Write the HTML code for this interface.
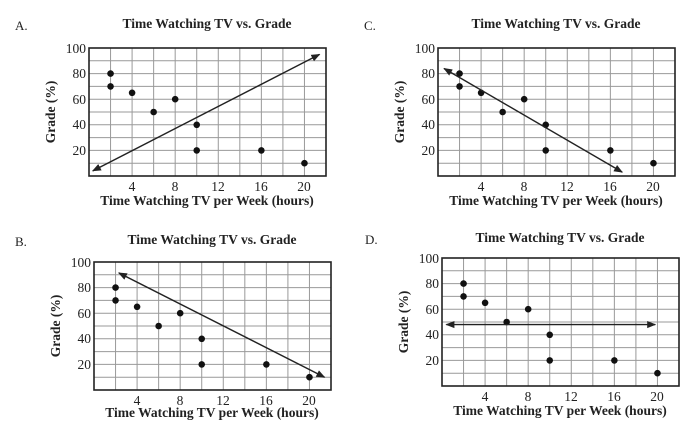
<!DOCTYPE html>
<html><head><meta charset="utf-8"><style>
html,body{margin:0;padding:0;background:#fff;width:695px;height:445px;overflow:hidden}
svg{display:block}
text{font-family:"Liberation Serif",serif;fill:#222}
.t{font-weight:bold;font-size:13.5px}
.k{font-size:13.5px;fill:#333}
.l{font-size:13px}
</style></head><body>
<svg id="s" width="695" height="445" viewBox="0 0 695 445">
<defs><marker id="ah" viewBox="0 0 10 10" refX="9" refY="5" markerWidth="9" markerHeight="9" orient="auto-start-reverse" markerUnits="userSpaceOnUse"><path d="M0,1 L10,5 L0,9 z" fill="#222"/></marker></defs>
<g id="pA" transform="translate(89,48)">
<text class="l" x="-74" y="-18">A.</text>
<text class="t" x="118" y="-20" text-anchor="middle">Time Watching TV vs. Grade</text>
<text class="t" x="118" y="157" text-anchor="middle">Time Watching TV per Week (hours)</text>
<text class="t" transform="translate(-34,64) rotate(-90)" text-anchor="middle">Grade (%)</text>
<g class="k" text-anchor="end"><text x="-3" y="5">100</text><text x="-3" y="30">80</text><text x="-3" y="56">60</text><text x="-3" y="81">40</text><text x="-3" y="107">20</text></g>
<g class="k" text-anchor="middle"><text x="43" y="143">4</text><text x="86" y="143">8</text><text x="129" y="143">12</text><text x="172" y="143">16</text><text x="215" y="143">20</text></g>
</g>
<g id="pC" transform="translate(438,48)">
<text class="l" x="-74" y="-18">C.</text>
<text class="t" x="118" y="-20" text-anchor="middle">Time Watching TV vs. Grade</text>
<text class="t" x="118" y="157" text-anchor="middle">Time Watching TV per Week (hours)</text>
<text class="t" transform="translate(-34,64) rotate(-90)" text-anchor="middle">Grade (%)</text>
<g class="k" text-anchor="end"><text x="-3" y="5">100</text><text x="-3" y="30">80</text><text x="-3" y="56">60</text><text x="-3" y="81">40</text><text x="-3" y="107">20</text></g>
<g class="k" text-anchor="middle"><text x="43" y="143">4</text><text x="86" y="143">8</text><text x="129" y="143">12</text><text x="172" y="143">16</text><text x="215" y="143">20</text></g>
</g>
<g id="pB" transform="translate(94,262)">
<text class="l" x="-79" y="-16">B.</text>
<text class="t" x="118" y="-18" text-anchor="middle">Time Watching TV vs. Grade</text>
<text class="t" x="118" y="155" text-anchor="middle">Time Watching TV per Week (hours)</text>
<text class="t" transform="translate(-34,64) rotate(-90)" text-anchor="middle">Grade (%)</text>
<g class="k" text-anchor="end"><text x="-3" y="5">100</text><text x="-3" y="30">80</text><text x="-3" y="56">60</text><text x="-3" y="81">40</text><text x="-3" y="107">20</text></g>
<g class="k" text-anchor="middle"><text x="43" y="143">4</text><text x="86" y="143">8</text><text x="129" y="143">12</text><text x="172" y="143">16</text><text x="215" y="143">20</text></g>
</g>
<g id="pD" transform="translate(442,258)">
<text class="l" x="-77" y="-14">D.</text>
<text class="t" x="118" y="-16" text-anchor="middle">Time Watching TV vs. Grade</text>
<text class="t" x="118" y="157" text-anchor="middle">Time Watching TV per Week (hours)</text>
<text class="t" transform="translate(-34,64) rotate(-90)" text-anchor="middle">Grade (%)</text>
<g class="k" text-anchor="end"><text x="-3" y="5">100</text><text x="-3" y="30">80</text><text x="-3" y="56">60</text><text x="-3" y="81">40</text><text x="-3" y="107">20</text></g>
<g class="k" text-anchor="middle"><text x="43" y="143">4</text><text x="86" y="143">8</text><text x="129" y="143">12</text><text x="172" y="143">16</text><text x="215" y="143">20</text></g>
</g>
</svg>
<script>
var NS="http://www.w3.org/2000/svg";
function el(p,n,a){var e=document.createElementNS(NS,n);for(var k in a)e.setAttribute(k,a[k]);p.appendChild(e);return e;}
var W=237,H=128,ux=W/22,uy=H/100;
var pts=[[2,80],[2,70],[4,65],[6,50],[8,60],[10,40],[10,20],[16,20],[20,10]];
var arr={pA:[0.35,4,21.4,95],pC:[0.56,84,17.1,3],pB:[2.3,91.5,21.4,10],pD:[0.4,48,19.8,48]};
for(var id in arr){
 var g=document.getElementById(id);
 var gg=document.createElementNS(NS,"g");g.insertBefore(gg,g.firstChild);
 for(var i=1;i<11;i++){var x=i*2*ux;el(gg,"line",{x1:x,y1:0,x2:x,y2:H,stroke:"#999","stroke-width":1});}
 for(var j=1;j<10;j++){var y=j*10*uy;el(gg,"line",{x1:0,y1:y,x2:W,y2:y,stroke:"#999","stroke-width":1});}
 el(gg,"rect",{x:0,y:0,width:W,height:H,fill:"none",stroke:"#222","stroke-width":1.6});
 pts.forEach(function(p){el(g,"circle",{cx:p[0]*ux,cy:H-p[1]*uy,r:3.3,fill:"#111"});});
 var a=arr[id];
 el(g,"line",{x1:a[0]*ux,y1:H-a[1]*uy,x2:a[2]*ux,y2:H-a[3]*uy,stroke:"#222","stroke-width":1.4,"marker-start":"url(#ah)","marker-end":"url(#ah)"});
}
</script>
</body></html>
